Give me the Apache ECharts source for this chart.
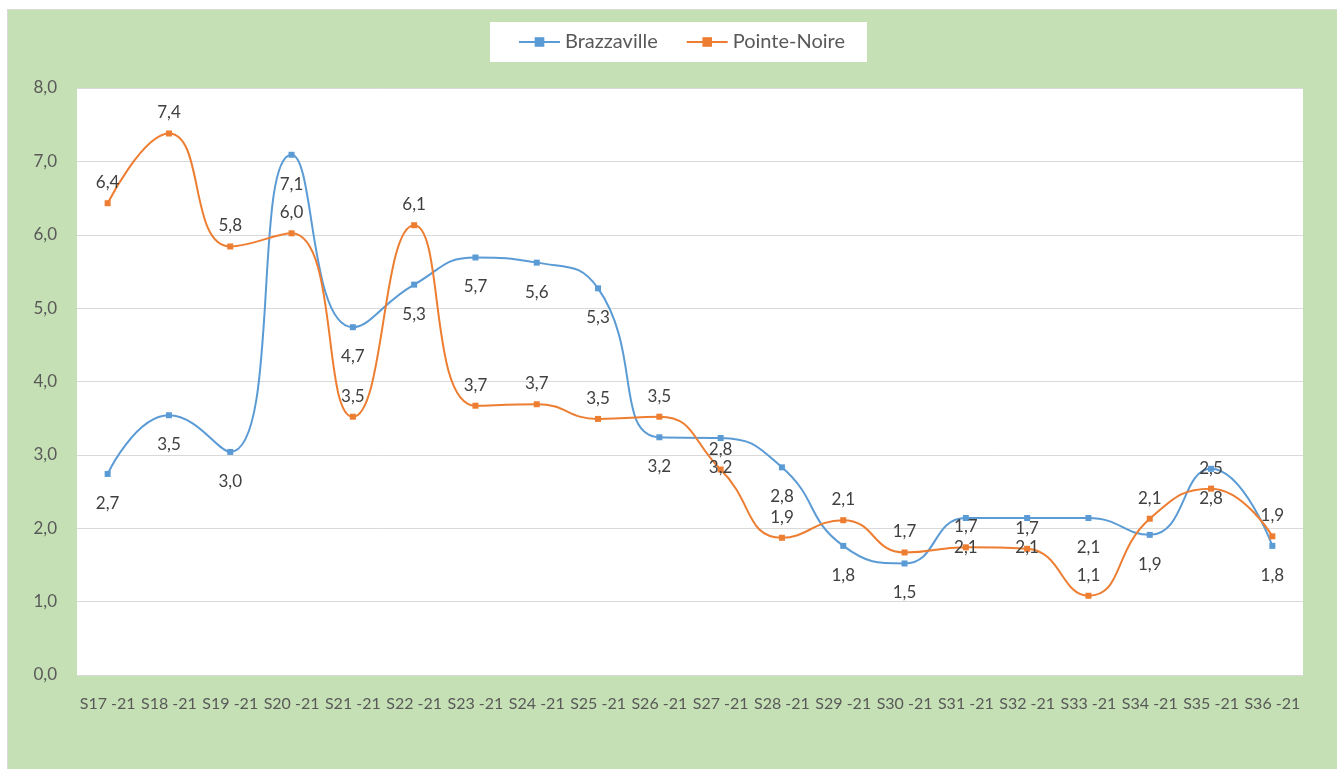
<!DOCTYPE html>
<html>
<head>
<meta charset="utf-8">
<script src="https://cdn.jsdelivr.net/npm/echarts@6/dist/echarts.min.js"></script>
<style>
  html, body { margin: 0; padding: 0; background: #ffffff; width: 1337px; height: 769px; overflow: hidden; }
  #chart { position: absolute; left: 7px; top: 9px; width: 1330px; height: 760px; background: #C5E0B4; border-left: 1px solid #D9D9D9; border-top: 1px solid #D9D9D9; }
</style>
</head>
<body>
<div id="chart"></div>
<script>
const categories = ['S17 -21','S18 -21','S19 -21','S20 -21','S21 -21','S22 -21','S23 -21','S24 -21','S25 -21','S26 -21',
                    'S27 -21','S28 -21','S29 -21','S30 -21','S31 -21','S32 -21','S33 -21','S34 -21','S35 -21','S36 -21'];
const brazzaville = [2.74, 3.54, 3.04, 7.09, 4.74, 5.32, 5.69, 5.62, 5.27, 3.24,
                     3.23, 2.83, 1.76, 1.52, 2.14, 2.14, 2.14, 1.91, 2.81, 1.76];
const pointeNoire = [6.43, 7.38, 5.84, 6.02, 3.52, 6.13, 3.67, 3.69, 3.49, 3.52,
                     2.80, 1.87, 2.11, 1.67, 1.74, 1.72, 1.08, 2.13, 2.54, 1.89];
const yTicks = { min: 0, max: 8, interval: 1 };

const FONT = 'Lato';
const fmt = v => v.toFixed(1).replace('.', ',');

const chart = echarts.init(document.getElementById('chart'));
chart.setOption({
  animation: false,
  textStyle: { fontFamily: FONT },
  legend: {
    top: 12,
    left: 482,
    backgroundColor: '#ffffff',
    padding: [10, 22, 10, 28],
    itemWidth: 41,
    itemHeight: 12,
    itemGap: 28,
    textStyle: { fontFamily: FONT, fontSize: 20, color: '#595959' },
    data: ['Brazzaville', 'Pointe-Noire']
  },
  grid: {
    left: 69, right: 35, top: 78, bottom: 95,
    show: true, backgroundColor: '#ffffff', borderWidth: 0
  },
  xAxis: {
    type: 'category',
    data: categories,
    boundaryGap: true,
    axisLine: { show: true, lineStyle: { color: '#D9D9D9', width: 1 } },
    axisTick: { show: false },
    axisLabel: { interval: 0, margin: 21, fontFamily: FONT, fontSize: 16, color: '#595959' }
  },
  yAxis: {
    type: 'value',
    min: yTicks.min, max: yTicks.max, interval: yTicks.interval,
    axisLine: { show: false },
    axisTick: { show: false },
    splitLine: { lineStyle: { color: '#D9D9D9', width: 1 } },
    axisLabel: { margin: 20, fontFamily: FONT, fontSize: 17, color: '#595959', formatter: fmt }
  },
  series: [
    {
      name: 'Brazzaville', type: 'line', data: brazzaville, smooth: 0.5,
      symbol: 'rect', symbolSize: 6,
      lineStyle: { color: '#5B9BD5', width: 2 },
      itemStyle: { color: '#5B9BD5' },
      label: { show: true, position: 'bottom', distance: 18, fontFamily: FONT, fontSize: 17, color: '#404040',
               formatter: p => fmt(p.value) }
    },
    {
      name: 'Pointe-Noire', type: 'line', data: pointeNoire, smooth: 0.5,
      symbol: 'rect', symbolSize: 6,
      lineStyle: { color: '#ED7D31', width: 2 },
      itemStyle: { color: '#ED7D31' },
      label: { show: true, position: 'top', distance: 9, fontFamily: FONT, fontSize: 17, color: '#404040',
               formatter: p => fmt(p.value) }
    }
  ]
});
</script>
</body>
</html>
